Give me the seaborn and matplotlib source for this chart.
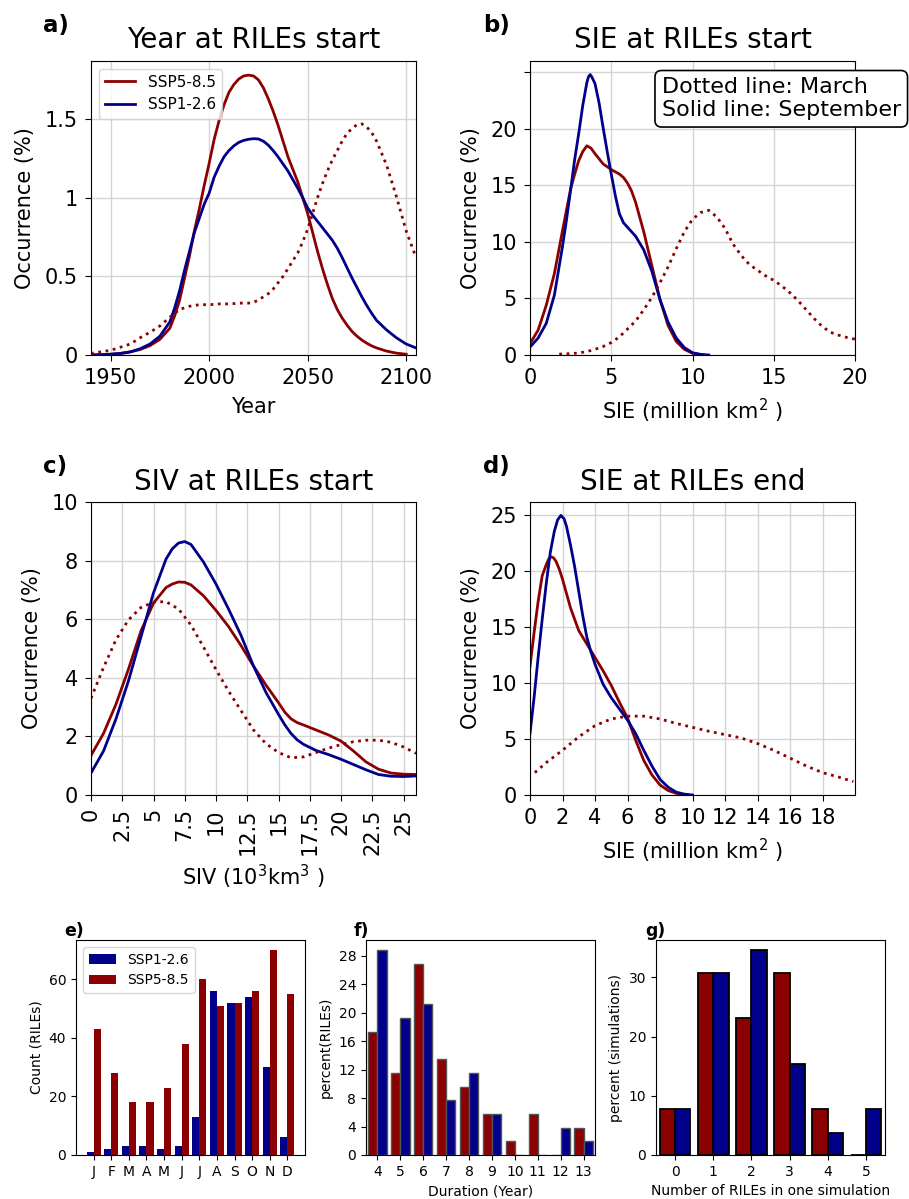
import matplotlib
matplotlib.use("Agg")
import matplotlib.pyplot as plt
from matplotlib.lines import Line2D
import seaborn as sns
import pandas as pd

RED = "#8B0000"
BLUE = "#00008B"

# ---------------- panel a: Year at RILEs start ----------------
a_years = [1940, 1945, 1950, 1955, 1960, 1965, 1970, 1975, 1980,
           1982.5, 1985, 1987.5, 1990, 1992.5, 1995, 1997.5, 2000, 2002.5, 2005,
           2007.5, 2010, 2012.5, 2015, 2017.5, 2020, 2022.5, 2025, 2027.5, 2030,
           2032.5, 2035, 2037.5, 2040, 2042.5, 2045, 2047.5, 2050, 2052.5, 2055,
           2057.5, 2060, 2062.5, 2065, 2067.5, 2070, 2072.5, 2075, 2077.5, 2080,
           2082.5, 2085, 2090, 2095, 2100, 2105]
a_ssp126_sep = [0.0, 0.002, 0.005, 0.01, 0.02, 0.04, 0.07, 0.12, 0.21,
                0.3, 0.41, 0.54, 0.66, 0.78, 0.87, 0.96, 1.03, 1.13, 1.2,
                1.26, 1.3, 1.33, 1.352, 1.365, 1.372, 1.376, 1.374, 1.36, 1.335,
                1.3, 1.26, 1.215, 1.17, 1.115, 1.06, 1.0, 0.935, 0.89, 0.85,
                0.81, 0.77, 0.73, 0.68, 0.62, 0.555, 0.49, 0.43, 0.37, 0.315,
                0.265, 0.22, 0.16, 0.11, 0.07, 0.045]
a_years_585 = a_years[:-1]
a_ssp585_sep = [0.0, 0.002, 0.005, 0.01, 0.02, 0.035, 0.06, 0.1, 0.17,
                0.25, 0.35, 0.49, 0.63, 0.79, 0.93, 1.08, 1.22, 1.37, 1.49,
                1.59, 1.67, 1.72, 1.755, 1.775, 1.78, 1.775, 1.75, 1.7, 1.63,
                1.55, 1.46, 1.36, 1.26, 1.18, 1.1, 1.0, 0.9, 0.78, 0.66,
                0.55, 0.45, 0.36, 0.29, 0.235, 0.19, 0.15, 0.12, 0.095, 0.075,
                0.058, 0.045, 0.025, 0.012, 0.005]
a_ssp585_mar = [0.01, 0.02, 0.03, 0.05, 0.07, 0.11, 0.145, 0.185, 0.24,
                0.265, 0.29, 0.30, 0.31, 0.315, 0.32, 0.32, 0.32, 0.322, 0.325,
                0.325, 0.325, 0.327, 0.33, 0.33, 0.33, 0.335, 0.35, 0.37, 0.39,
                0.42, 0.46, 0.5, 0.55, 0.6, 0.65, 0.72, 0.80, 0.9, 1.0,
                1.09, 1.17, 1.24, 1.30, 1.36, 1.41, 1.44, 1.465, 1.47, 1.45,
                1.415, 1.36, 1.21, 1.01, 0.79, 0.62]

# ---------------- panel b: SIE at RILEs start ----------------
b_x_126 = [0, 0.5, 1, 1.5, 2, 2.25, 2.5, 2.75, 3, 3.25, 3.5, 3.6, 3.7, 3.8, 4, 4.25,
           4.5, 4.75, 5, 5.25, 5.5, 5.75, 6, 6.5, 7, 7.5, 8, 8.5, 9, 9.5, 10, 10.5, 11]
b_ssp126_sep = [0.7, 1.5, 2.8, 5.3, 9.6, 12.0, 14.6, 17.3, 19.6, 22.1, 24.1, 24.6, 24.8,
                24.6, 24.0, 22.3, 20.1, 18.0, 16.0, 14.1, 12.5, 11.7, 11.3, 10.5, 9.3,
                7.4, 4.9, 2.9, 1.5, 0.65, 0.2, 0.06, 0.0]
b_x_585 = [0, 0.5, 1, 1.5, 2, 2.5, 2.75, 3, 3.25, 3.5, 3.75, 4, 4.5, 5, 5.5, 5.75, 6,
           6.25, 6.5, 7, 7.5, 8, 8.5, 9, 9.5, 10, 10.5]
b_ssp585_sep = [1.0, 2.2, 4.4, 7.2, 11.0, 14.7, 16.0, 17.2, 18.0, 18.5, 18.3, 17.8, 16.9,
                16.4, 16.0, 15.7, 15.2, 14.5, 13.5, 10.9, 7.9, 4.9, 2.6, 1.2, 0.5, 0.15,
                0.0]
b_x_mar = [1.8, 2.5, 3, 3.5, 4, 4.5, 5, 5.5, 6, 6.5, 7, 7.5, 8, 8.5, 9, 9.5, 10, 10.5,
           11, 11.5, 12, 12.5, 13, 13.5, 14, 14.5, 15, 15.5, 16, 16.5, 17, 17.5, 18,
           18.5, 19, 19.5, 20]
b_ssp585_mar = [0.08, 0.12, 0.18, 0.3, 0.5, 0.75, 1.1, 1.6, 2.3, 3.0, 4.0, 5.1, 6.4, 7.8,
                9.4, 10.9, 12.0, 12.6, 12.8, 12.2, 11.2, 9.8, 8.8, 8.0, 7.5, 7.0, 6.6,
                6.1, 5.5, 4.8, 4.0, 3.2, 2.5, 2.0, 1.75, 1.55, 1.4]

# ---------------- panel c: SIV at RILEs start ----------------
c_x_sep = [0, 1, 2, 3, 4, 5, 6, 6.5, 7, 7.5, 8, 9, 10, 11, 12, 13, 14, 15, 15.5, 16,
           16.5, 17, 18, 19, 20, 21, 22, 23, 24, 25, 26]
c_ssp126_sep = [0.75, 1.5, 2.6, 3.9, 5.4, 6.9, 8.05, 8.4, 8.6, 8.65, 8.55, 7.95, 7.2,
                6.35, 5.45, 4.4, 3.5, 2.75, 2.4, 2.1, 1.88, 1.73, 1.52, 1.38, 1.22, 1.04,
                0.86, 0.7, 0.64, 0.63, 0.65]
c_ssp585_sep = [1.35, 2.1, 3.1, 4.3, 5.6, 6.55, 7.08, 7.2, 7.27, 7.26, 7.17, 6.8, 6.3,
                5.75, 5.1, 4.4, 3.75, 3.15, 2.83, 2.6, 2.47, 2.39, 2.22, 2.05, 1.84, 1.5,
                1.13, 0.88, 0.75, 0.71, 0.7]
c_x_mar = list(range(0, 27))
c_ssp585_mar = [3.3, 4.35, 5.3, 5.98, 6.4, 6.58, 6.6, 6.35, 5.8, 5.05, 4.28, 3.55, 2.88,
                2.22, 1.75, 1.45, 1.27, 1.3, 1.45, 1.6, 1.72, 1.82, 1.87, 1.87, 1.8,
                1.64, 1.42]

# ---------------- panel d: SIE at RILEs end ----------------
d_x_126 = [0, 0.25, 0.5, 0.75, 1, 1.25, 1.5, 1.7, 1.9, 2.1, 2.25, 2.5, 2.75, 3, 3.25,
           3.5, 3.75, 4, 4.5, 5, 5.5, 6, 6.5, 7, 7.5, 8, 8.5, 9, 9.5, 10]
d_ssp126_sep = [5.5, 8.7, 12.3, 15.7, 18.9, 21.7, 23.6, 24.6, 25.0, 24.7, 24.0, 22.3,
                20.4, 18.2, 16.0, 14.1, 12.8, 11.7, 9.9, 8.7, 7.7, 6.7, 5.5, 4.0, 2.6,
                1.4, 0.7, 0.25, 0.08, 0.0]
d_x_585 = [0, 0.25, 0.5, 0.75, 1, 1.15, 1.3, 1.45, 1.6, 1.8, 2, 2.5, 3, 3.5, 4, 4.5, 5,
           5.5, 6, 6.5, 7, 7.5, 8, 8.5, 9, 9.5]
d_ssp585_sep = [11.5, 14.5, 17.3, 19.6, 20.6, 21.1, 21.3, 21.2, 20.9, 20.2, 19.3, 16.7,
                14.7, 13.5, 12.3, 11.1, 9.8, 8.3, 6.9, 4.9, 3.1, 1.8, 0.9, 0.4, 0.15,
                0.03]
d_x_mar = [0.3, 1, 2, 3, 4, 5, 6, 7, 8, 9, 10, 11, 12, 13, 14, 15, 16, 17, 18, 19, 19.9]
d_ssp585_mar = [2.0, 2.9, 4.0, 5.2, 6.2, 6.8, 7.05, 7.05, 6.8, 6.4, 6.05, 5.7, 5.4, 5.1,
                4.6, 4.0, 3.3, 2.6, 2.0, 1.6, 1.2]

# ---------------- panel e: month of RILEs ----------------
e_months = ["J", "F", "M", "A", "M", "J", "J", "A", "S", "O", "N", "D"]
e_ssp126 = [1, 2, 3, 3, 2, 3, 13, 56, 52, 54, 30, 6]
e_ssp585 = [43, 28, 18, 18, 23, 38, 60, 51, 52, 56, 70, 55]

# ---------------- panel f: duration ----------------
f_duration = [4, 5, 6, 7, 8, 9, 10, 11, 12, 13]
f_ssp585 = [17.3, 11.5, 26.9, 13.5, 9.6, 5.8, 1.9, 5.8, 0, 3.8]
f_ssp126 = [28.8, 19.2, 21.2, 7.7, 11.5, 5.8, 0, 0, 3.8, 1.9]

# ---------------- panel g: number of RILEs per simulation ----------------
g_number = [0, 1, 2, 3, 4, 5]
g_ssp585 = [7.7, 30.8, 23.1, 30.8, 7.7, 0]
g_ssp126 = [7.7, 30.8, 34.6, 15.4, 3.8, 7.7]

LBL126 = "SSP1-2.6"
LBL585 = "SSP5-8.5"

W, H = 909, 1199
fig = plt.figure(figsize=(W / 100, H / 100), dpi=100)


def add_ax(x0, y0, x1, y1):
    return fig.add_axes([x0 / W, 1 - y1 / H, (x1 - x0) / W, (y1 - y0) / H])


ax_a = add_ax(91, 61, 416, 355)
ax_b = add_ax(530, 61, 855, 355)
ax_c = add_ax(91, 502, 416, 795)
ax_d = add_ax(530, 502, 855, 795)
ax_e = add_ax(76, 940, 305, 1155)
ax_f = add_ax(366, 940, 595, 1155)
ax_g = add_ax(656, 940, 885, 1155)

BIG = 15
LW = 2


def kde_panel(ax, curves, title):
    for xs, ys, col, ls in curves:
        sns.lineplot(x=xs, y=ys, ax=ax, color=col, linewidth=LW, linestyle=ls)
    ax.set_title(title, fontsize=20, pad=9)
    ax.grid(True, color="#d4d4d4", linewidth=1)
    ax.set_axisbelow(True)
    ax.tick_params(labelsize=BIG, length=4, pad=5.5)
    ax.set_ylabel("Occurrence (%)", fontsize=BIG, labelpad=7)


kde_panel(ax_a, [(a_years_585, a_ssp585_sep, RED, "-"),
                 (a_years, a_ssp126_sep, BLUE, "-"),
                 (a_years, a_ssp585_mar, RED, ":")], "Year at RILEs start")
ax_a.set_xlim(1940, 2105)
ax_a.set_ylim(0, 1.87)
ax_a.set_xticks([1950, 2000, 2050, 2100])
ax_a.set_yticks([0, 0.5, 1, 1.5])
ax_a.set_yticklabels(["0", "0.5", "1", "1.5"])
ax_a.set_xlabel("Year", fontsize=BIG, labelpad=6)
ax_a.legend(handles=[Line2D([], [], color=RED, lw=LW, label=LBL585),
                     Line2D([], [], color=BLUE, lw=LW, label=LBL126)],
            loc="upper left", fontsize=11)

kde_panel(ax_b, [(b_x_585, b_ssp585_sep, RED, "-"),
                 (b_x_126, b_ssp126_sep, BLUE, "-"),
                 (b_x_mar, b_ssp585_mar, RED, ":")], "SIE at RILEs start")
ax_b.set_xlim(0, 20)
ax_b.set_ylim(0, 26)
ax_b.set_xticks([0, 5, 10, 15, 20])
ax_b.set_yticks([0, 5, 10, 15, 20, 25])
ax_b.set_yticklabels(["0", "5", "10", "15", "20", ""])
ax_b.set_xlabel("SIE (million km$^2$ )", fontsize=BIG, labelpad=6)
ax_b.text(0.405, 0.945, "Dotted line: March\nSolid line: September",
          transform=ax_b.transAxes, ha="left", va="top", fontsize=16,
          bbox=dict(boxstyle="round,pad=0.3", fc="white", ec="black", lw=1.2))

kde_panel(ax_c, [(c_x_sep, c_ssp585_sep, RED, "-"),
                 (c_x_sep, c_ssp126_sep, BLUE, "-"),
                 (c_x_mar, c_ssp585_mar, RED, ":")], "SIV at RILEs start")
ax_c.set_xlim(0, 26)
ax_c.set_ylim(0, 10)
c_ticks = [0, 2.5, 5, 7.5, 10, 12.5, 15, 17.5, 20, 22.5, 25]
ax_c.set_xticks(c_ticks)
ax_c.set_xticklabels([f"{t:g}" for t in c_ticks], rotation=90)
ax_c.set_yticks([0, 2, 4, 6, 8, 10])
ax_c.set_xlabel("SIV (10$^3$km$^3$ )", fontsize=BIG, labelpad=6)

kde_panel(ax_d, [(d_x_585, d_ssp585_sep, RED, "-"),
                 (d_x_126, d_ssp126_sep, BLUE, "-"),
                 (d_x_mar, d_ssp585_mar, RED, ":")], "SIE at RILEs end")
ax_d.set_xlim(0, 20)
ax_d.set_ylim(0, 26.2)
ax_d.set_xticks(list(range(0, 20, 2)))
ax_d.set_yticks([0, 5, 10, 15, 20, 25])
ax_d.set_xlabel("SIE (million km$^2$ )", fontsize=BIG, labelpad=6)

SMALL = 10
PAL = {LBL126: BLUE, LBL585: RED}

# panel e
df_e = pd.DataFrame({
    "pos": list(range(12)) * 2,
    "val": e_ssp126 + e_ssp585,
    "scen": [LBL126] * 12 + [LBL585] * 12,
})
sns.barplot(data=df_e, x="pos", y="val", hue="scen", hue_order=[LBL126, LBL585],
            palette=PAL, saturation=1, errorbar=None, ax=ax_e,
            linewidth=0, width=0.8)
ax_e.set_xticks(range(12))
ax_e.set_xticklabels(e_months)
ax_e.set_xlim(-1, 12)
ax_e.set_yticks([0, 20, 40, 60])
ax_e.set_xlabel("")
ax_e.set_ylabel("Count (RILEs)", fontsize=SMALL)
ax_e.tick_params(labelsize=SMALL)
h, l = ax_e.get_legend_handles_labels()
ax_e.legend(h, l, loc="upper left", fontsize=SMALL)

# panel f
df_f = pd.DataFrame({
    "dur": f_duration * 2,
    "val": f_ssp585 + f_ssp126,
    "scen": [LBL585] * len(f_duration) + [LBL126] * len(f_duration),
})
sns.barplot(data=df_f, x="dur", y="val", hue="scen", hue_order=[LBL585, LBL126],
            palette=PAL, saturation=1, errorbar=None, ax=ax_f,
            edgecolor="#555555", linewidth=1, width=0.8, legend=False)
ax_f.set_yticks(list(range(0, 29, 4)))
ax_f.set_xlabel("Duration (Year)", fontsize=SMALL)
ax_f.set_ylabel("percent(RILEs)", fontsize=SMALL)
ax_f.tick_params(labelsize=SMALL)

# panel g
df_g = pd.DataFrame({
    "num": g_number * 2,
    "val": g_ssp585 + g_ssp126,
    "scen": [LBL585] * len(g_number) + [LBL126] * len(g_number),
})
sns.barplot(data=df_g, x="num", y="val", hue="scen", hue_order=[LBL585, LBL126],
            palette=PAL, saturation=1, errorbar=None, ax=ax_g,
            edgecolor="black", linewidth=1.3, width=0.8, legend=False)
ax_g.set_yticks([0, 10, 20, 30])
ax_g.set_xlabel("Number of RILEs in one simulation", fontsize=SMALL)
ax_g.set_ylabel("percent (simulations)", fontsize=SMALL)
ax_g.tick_params(labelsize=SMALL)

# panel letters
for txt, x, y, fs in [("a)", 43, 32, 16.5), ("b)", 483, 32, 16.5),
                      ("c)", 43, 473, 16.5), ("d)", 483, 473, 16.5),
                      ("e)", 64, 936, 12.5), ("f)", 354, 936, 12.5),
                      ("g)", 645, 936, 12.5)]:
    fig.text(x / W, 1 - y / H, txt, fontsize=fs, fontweight="bold",
             ha="left", va="baseline")

fig.savefig("out.png", dpi=100)
